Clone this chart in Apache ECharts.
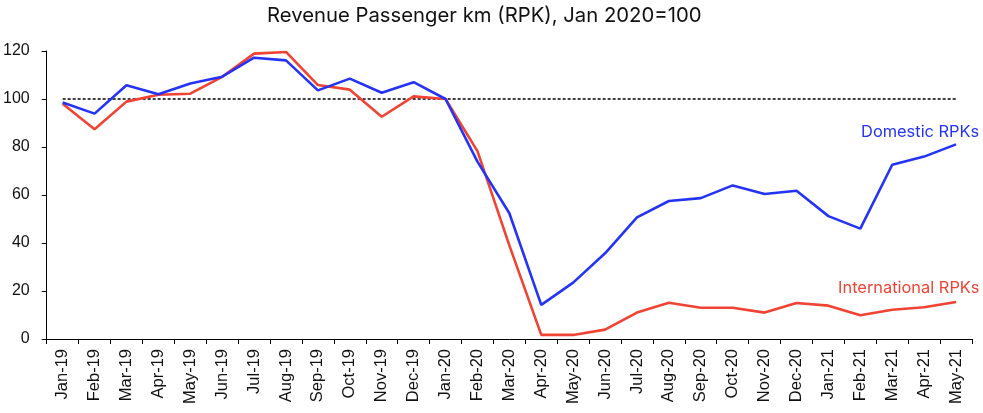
<!DOCTYPE html>
<html>
<head>
<meta charset="utf-8">
<title>Revenue Passenger km (RPK)</title>
<script src="https://cdn.jsdelivr.net/npm/echarts@6/dist/echarts.min.js"></script>
<style>
  html, body { margin: 0; padding: 0; background: #fff; }
  #chart { width: 983px; height: 413px; }
</style>
</head>
<body>
<div id="chart"></div>
<script>
  // 月份
  const months = ['Jan-19', 'Feb-19', 'Mar-19', 'Apr-19', 'May-19', 'Jun-19', 'Jul-19', 'Aug-19',
    'Sep-19', 'Oct-19', 'Nov-19', 'Dec-19', 'Jan-20', 'Feb-20', 'Mar-20', 'Apr-20', 'May-20',
    'Jun-20', 'Jul-20', 'Aug-20', 'Sep-20', 'Oct-20', 'Nov-20', 'Dec-20', 'Jan-21', 'Feb-21',
    'Mar-21', 'Apr-21', 'May-21']
  const domestic = [98.5, 93.9, 105.7, 102, 106.5, 109.3, 117.2, 116.1, 103.6, 108.5, 102.6, 107, 100,
    73.9, 52.4, 14.2, 23.5, 35.7, 50.7, 57.5, 58.7, 64, 60.4, 61.8, 51.2, 46, 72.6, 76, 81.1]
  const international = [98, 87.4, 98.9, 101.8, 102.2, 109.2, 118.9, 119.6, 105.8, 103.9, 92.6, 101.1, 100,
    78.3, 39, 1.7, 1.7, 3.9, 11, 15.1, 13, 13, 11, 15, 13.9, 9.9, 12.2, 13.2, 15.4]
  const baseline = months.map(() => 100)
  const yTicks = [0, 20, 40, 60, 80, 100, 120]

  const BLUE = '#2433f5'
  const RED = '#f04334'

  const option = {
    animation: false,
    title: {
      text: 'Revenue Passenger km (RPK), Jan 2020=100',
      left: 262,
      top: 1,
      textStyle: {
        color: '#111',
        fontFamily: 'Inter',
        fontWeight: 'normal',
        fontSize: 20.3
      }
    },
    grid: {
      left: 44.5,
      right: 11,
      top: 51,
      bottom: 74
    },
    xAxis: {
      type: 'category',
      data: months,
      boundaryGap: true,
      axisLine: { lineStyle: { color: '#000', width: 1 } },
      axisTick: { show: true, length: 5, lineStyle: { color: '#000' } },
      axisLabel: {
        rotate: 90,
        interval: 0,
        color: '#111',
        fontFamily: 'Liberation Sans',
        fontSize: 16.5,
        margin: 10
      }
    },
    yAxis: {
      type: 'value',
      min: yTicks[0],
      max: yTicks[yTicks.length - 1],
      interval: 20,
      splitLine: { show: false },
      axisLine: { show: true, lineStyle: { color: '#000', width: 1 } },
      axisTick: { show: true, length: 5, lineStyle: { color: '#000' } },
      axisLabel: {
        color: '#111',
        fontFamily: 'Liberation Sans',
        fontSize: 16,
        margin: 17
      }
    },
    series: [
      {
        name: 'Jan 2020=100',
        type: 'line',
        data: baseline,
        symbol: 'none',
        z: 1,
        lineStyle: { color: '#000', width: 1.5, type: [3, 2] }
      },
      {
        name: 'International RPKs',
        type: 'line',
        data: international,
        symbol: 'none',
        z: 2,
        lineStyle: { color: RED, width: 2.6 },
        endLabel: {
          show: true,
          formatter: 'International RPKs',
          color: RED,
          fontFamily: 'Inter',
          fontSize: 16.4,
          offset: [-126, -14]
        }
      },
      {
        name: 'Domestic RPKs',
        type: 'line',
        data: domestic,
        symbol: 'none',
        z: 3,
        lineStyle: { color: BLUE, width: 2.6 },
        endLabel: {
          show: true,
          formatter: 'Domestic RPKs',
          color: BLUE,
          fontFamily: 'Inter',
          fontSize: 16.4,
          offset: [-103, -12]
        }
      }
    ]
  }

  const myChart = echarts.init(document.getElementById('chart'))
  myChart.setOption(option, true)
</script>
</body>
</html>
